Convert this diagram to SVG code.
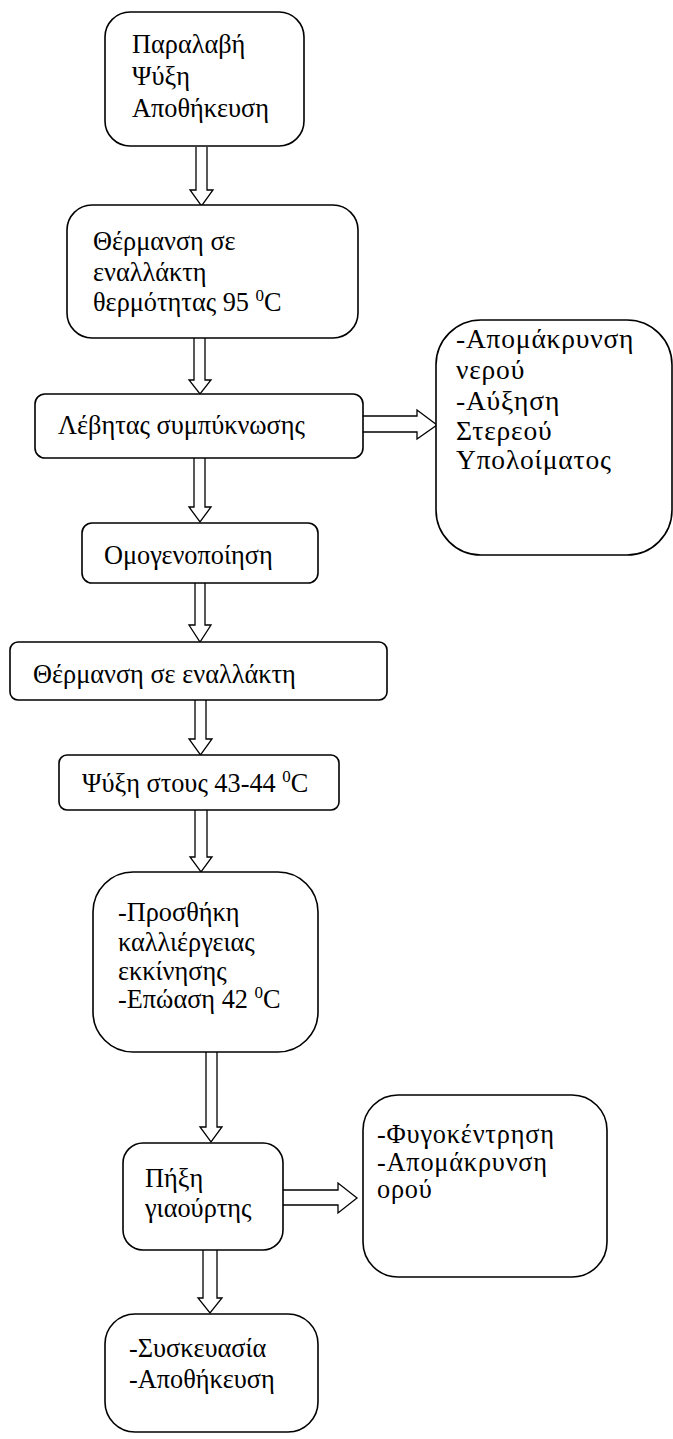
<svg xmlns="http://www.w3.org/2000/svg" width="673" height="1439" viewBox="0 0 673 1439">
<style>
.box{fill:#fff;stroke:#000;stroke-width:1.6}
.arr{fill:#fff;stroke:#000;stroke-width:1.3;stroke-linejoin:miter}
text{font-family:"Liberation Serif","Times New Roman",serif;font-size:26.3px;fill:#000}
.sup{font-size:17px}
.wide{font-size:27.5px;letter-spacing:0.8px}
.wide2{letter-spacing:0.8px}
</style>
<rect width="673" height="1439" fill="#fff"/>
<g id="connectors">
<path class="arr" d="M196,147 V190 H190 L201.5,206 L213,190 H207 V147"/>
<path class="arr" d="M194,338 V380 H189 L200,394 L211,380 H205 V338"/>
<path class="arr" d="M194,458 V507 H189 L200,522 L211,507 H205 V458"/>
<path class="arr" d="M195,583 V625 H189 L200,642 L211,625 H205 V583"/>
<path class="arr" d="M195,700 V739 H189 L200.5,755 L212,739 H206 V700"/>
<path class="arr" d="M195,810 V857 H190 L201,872 L212,857 H207 V810"/>
<path class="arr" d="M206,1052 V1127 H200 L211,1142 L222,1127 H217 V1052"/>
<path class="arr" d="M203,1250 V1298 H198 L210,1313 L222,1298 H217 V1250"/>
<path class="arr" d="M363,416 H417 V410 L437,425 L417,439 V432 H363"/>
<path class="arr" d="M283,1190 H338 V1183 L357,1198 L338,1213 V1205 H283"/>
</g>
<g id="n1"><rect class="box" x="105" y="12" width="199" height="134" rx="25"/>
<text x="132" y="53">Παραλαβή</text><text x="132" y="85">Ψύξη</text><text x="132" y="117">Αποθήκευση</text></g>
<g id="n2"><rect class="box" x="67" y="205" width="291" height="133" rx="25"/>
<text x="93" y="250">Θέρμανση σε</text><text x="93" y="281">εναλλάκτη</text><text x="93" y="311">θερμότητας 95 <tspan class="sup" dy="-10">0</tspan><tspan dy="10">C</tspan></text></g>
<g id="n3"><rect class="box" x="35" y="394" width="328" height="64" rx="10"/>
<text x="58" y="434">Λέβητας συμπύκνωσης</text></g>
<g id="n4"><rect class="box" x="436" y="320" width="236" height="235" rx="45"/>
<text class="wide" x="456" y="348">-Απομάκρυνση</text><text class="wide" x="456" y="379">νερού</text><text class="wide" x="456" y="410">-Αύξηση</text><text class="wide" x="456" y="440">Στερεού</text><text class="wide" x="456" y="469">Υπολοίματος</text></g>
<g id="n5"><rect class="box" x="82" y="523" width="236" height="60" rx="10"/>
<text x="104" y="564">Ομογενοποίηση</text></g>
<g id="n6"><rect class="box" x="10" y="642" width="377" height="58" rx="8"/>
<text x="33" y="683">Θέρμανση σε εναλλάκτη</text></g>
<g id="n7"><rect class="box" x="59" y="755" width="280" height="55" rx="8"/>
<text x="82" y="792">Ψύξη στους 43-44 <tspan class="sup" dy="-10">0</tspan><tspan dy="10">C</tspan></text></g>
<g id="n8"><rect class="box" x="93" y="872" width="225" height="180" rx="40"/>
<text x="118" y="921">-Προσθήκη</text><text x="118" y="951">καλλιέργειας</text><text x="118" y="980">εκκίνησης</text><text x="118" y="1008">-Επώαση 42 <tspan class="sup" dy="-10">0</tspan><tspan dy="10">C</tspan></text></g>
<g id="n9"><rect class="box" x="123" y="1143" width="160" height="107" rx="20"/>
<text x="145" y="1187">Πήξη</text><text x="145" y="1217">γιαούρτης</text></g>
<g id="n10"><rect class="box" x="363" y="1095" width="244" height="182" rx="35"/>
<text class="wide2" x="377" y="1143">-Φυγοκέντρηση</text><text class="wide2" x="377" y="1171">-Απομάκρυνση</text><text class="wide2" x="377" y="1198">ορού</text></g>
<g id="n11"><rect class="box" x="105" y="1314" width="213" height="118" rx="30"/>
<text x="129" y="1357">-Συσκευασία</text><text x="129" y="1388">-Αποθήκευση</text></g>
</svg>
